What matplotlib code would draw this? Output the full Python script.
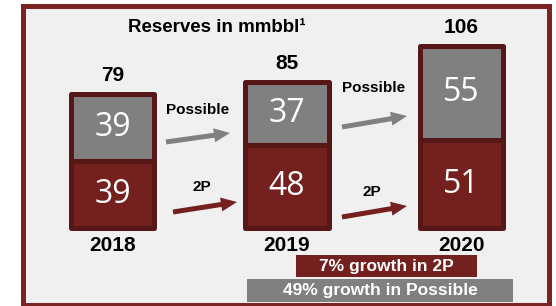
import matplotlib
matplotlib.use("Agg")
import matplotlib.pyplot as plt
from matplotlib.patches import Rectangle, FancyArrow

# ---- data ----
years = ["2018", "2019", "2020"]
reserves_2p = [39, 48, 51]
reserves_possible = [39, 37, 55]
totals = [79, 85, 106]
title_text = "Reserves in mmbbl\u00b9"
growth_2p_text = "7% growth in 2P"
growth_possible_text = "49% growth in Possible"
arrow_labels = ["Possible", "2P"]

# ---- style ----
RED = "#74201e"
DARK = "#561816"
GRAY = "#808080"
FRAME = "#7b2422"
BG = "#f0f0f0"
BOLD = ["Liberation Sans", "DejaVu Sans"]

W, H = 556, 306
fig = plt.figure(figsize=(W / 100, H / 100), dpi=100)
fig.patch.set_facecolor("white")

# overlay in pixel coordinates (frame, arrows, boxes)
ov = fig.add_axes([0, 0, 1, 1], zorder=0)
ov.set_xlim(0, W)
ov.set_ylim(H, 0)
ov.axis("off")
ov.add_patch(Rectangle((22.5, 5.5), 526, 299, facecolor=BG, edgecolor=FRAME, lw=3.6))

# main data axes
ax = fig.add_axes([0, 0, 1, 1], zorder=1)
ax.patch.set_alpha(0)
ax.axis("off")
k = 1.72
spacing = 174.5
ax.set_xlim(-112.5 / spacing, (W - 112.5) / spacing)
ax.set_ylim(-(H - 228) / k, 228 / k)

x = list(range(len(years)))
bw = 0.48
b1 = ax.bar(x, reserves_2p, width=bw, color=RED, edgecolor=DARK, linewidth=3.6)
b2 = ax.bar(x, reserves_possible, width=bw, bottom=reserves_2p, color=GRAY,
            edgecolor=DARK, linewidth=3.6)
for p in list(b1) + list(b2):
    p.set_joinstyle("round")

for i in x:
    ax.text(i, reserves_2p[i] / 2, str(reserves_2p[i]), color="white",
            fontsize=23, family="Open Sans", ha="center", va="center")
    ax.text(i, reserves_2p[i] + reserves_possible[i] / 2, str(reserves_possible[i]),
            color="white", fontsize=23, family="Open Sans", ha="center", va="center")
    ax.annotate(str(totals[i]), (i, reserves_2p[i] + reserves_possible[i]),
                xytext=(0, 13), textcoords="offset points", ha="center", va="center",
                fontsize=15, fontweight="bold", family=BOLD)
    ax.annotate(years[i], (i, 0), xytext=(0, -12.5), textcoords="offset points",
                ha="center", va="center", fontsize=15, fontweight="bold", family=BOLD)

# title
ov.text(217, 27, title_text, ha="center", va="center", fontsize=13.5,
        fontweight="bold", family=BOLD)

# arrows
arrows = [((166, 142), (230, 133), GRAY), ((173, 212), (237, 202), RED),
          ((342, 127), (407, 116), GRAY), ((342, 217), (407, 206), RED)]
for (x0, y0), (x1, y1), c in arrows:
    ov.add_patch(FancyArrow(x0, y0, x1 - x0, y1 - y0, width=5, head_width=14,
                            head_length=16, length_includes_head=True,
                            color=c, lw=0))
for (px, py), lab in [((198, 110), arrow_labels[0]), ((202, 187), arrow_labels[1]),
                      ((374, 88), arrow_labels[0]), ((372, 192), arrow_labels[1])]:
    ov.text(px, py, lab, ha="center", va="center", fontsize=11,
            fontweight="bold", family=BOLD)

# growth boxes
ov.add_patch(Rectangle((296, 255), 181, 22, facecolor=RED, lw=0))
ov.text(386, 266.5, growth_2p_text, ha="center", va="center", color="white",
        fontsize=12.5, fontweight="bold", family=BOLD)
ov.add_patch(Rectangle((247, 279), 266, 22.5, facecolor=GRAY, lw=0))
ov.text(380, 290.5, growth_possible_text, ha="center", va="center", color="white",
        fontsize=12.5, fontweight="bold", family=BOLD)

fig.savefig("out.png", dpi=100)
